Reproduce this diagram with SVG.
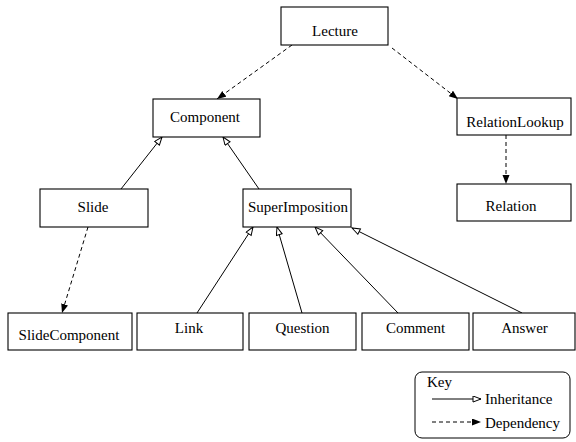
<svg xmlns="http://www.w3.org/2000/svg" width="576" height="442" viewBox="0 0 576 442">
<style>
.box{fill:#fff;stroke:#000;stroke-width:1.1}
text{font-family:'Liberation Serif', 'DejaVu Serif', serif;font-size:15px;fill:#000}
.t{text-anchor:middle}
.inh{stroke:#000;stroke-width:1;fill:none;marker-end:url(#hollow)}
.dep{stroke:#000;stroke-width:1;fill:none;stroke-dasharray:4,3;marker-end:url(#filled)}
</style>
<defs>
<marker id="hollow" markerUnits="userSpaceOnUse" markerWidth="12" markerHeight="10" refX="9" refY="3.5" orient="auto">
<path d="M1,0.5 L9,3.5 L1,6.5 z" fill="#fff" stroke="#000" stroke-width="1"/>
</marker>
<marker id="filled" markerUnits="userSpaceOnUse" markerWidth="12" markerHeight="10" refX="9" refY="3.5" orient="auto">
<path d="M0,0 L9,3.5 L0,7 z" fill="#000"/>
</marker>
</defs>
<rect width="576" height="442" fill="#fff"/>
<g id="connectors">
<line class="dep" x1="292" y1="45" x2="217" y2="99"/>
<line class="dep" x1="392" y1="48" x2="458" y2="99"/>
<line class="dep" x1="506" y1="135" x2="506" y2="184"/>
<line class="inh" x1="121" y1="189" x2="162" y2="137"/>
<line class="inh" x1="259" y1="189" x2="223" y2="137"/>
<line class="dep" x1="88" y1="227" x2="62" y2="313"/>
<line class="inh" x1="197" y1="313" x2="253" y2="227"/>
<line class="inh" x1="302" y1="313" x2="277" y2="227"/>
<line class="inh" x1="398" y1="313" x2="315" y2="227"/>
<line class="inh" x1="522" y1="313" x2="352" y2="228"/>
</g>
<g id="lecture"><rect class="box" x="281" y="7" width="107" height="38"/><text class="t" x="335" y="36" font-family="Liberation Serif, serif">Lecture</text></g>
<g id="component"><rect class="box" x="153" y="99" width="107" height="38"/><text class="t" x="205" y="121.5" font-family="Liberation Serif, serif">Component</text></g>
<g id="relationlookup"><rect class="box" x="457" y="98" width="114" height="37"/><text class="t" x="515" y="127" font-family="Liberation Serif, serif">RelationLookup</text></g>
<g id="relation"><rect class="box" x="457" y="184" width="114" height="37"/><text class="t" x="511" y="211" font-family="Liberation Serif, serif">Relation</text></g>
<g id="slide"><rect class="box" x="40" y="189" width="108" height="38"/><text class="t" x="93" y="211.5" font-family="Liberation Serif, serif">Slide</text></g>
<g id="superimposition"><rect class="box" x="243" y="189" width="108" height="38"/><text class="t" x="298" y="211.5" font-family="Liberation Serif, serif">SuperImposition</text></g>
<g id="slidecomponent"><rect class="box" x="8" y="313" width="124" height="37"/><text class="t" x="69" y="340" font-family="Liberation Serif, serif">SlideComponent</text></g>
<g id="link"><rect class="box" x="137" y="313" width="106" height="37"/><text class="t" x="189" y="333" font-family="Liberation Serif, serif">Link</text></g>
<g id="question"><rect class="box" x="249" y="313" width="107" height="37"/><text class="t" x="302.5" y="333" font-family="Liberation Serif, serif">Question</text></g>
<g id="comment"><rect class="box" x="362" y="313" width="107" height="37"/><text class="t" x="415.5" y="333" font-family="Liberation Serif, serif">Comment</text></g>
<g id="answer"><rect class="box" x="473" y="313" width="102" height="37"/><text class="t" x="524.5" y="333" font-family="Liberation Serif, serif">Answer</text></g>
<g id="key">
<rect x="415" y="372" width="155" height="66" rx="7" fill="#fff" stroke="#000" stroke-width="1"/>
<text x="427" y="387" font-family="Liberation Serif, serif">Key</text>
<line class="inh" x1="432" y1="399" x2="481" y2="399"/>
<text x="485" y="404" font-family="Liberation Serif, serif">Inheritance</text>
<line class="dep" x1="432" y1="422" x2="481" y2="422"/>
<text x="485" y="428" font-family="Liberation Serif, serif">Dependency</text>
</g>
</svg>
